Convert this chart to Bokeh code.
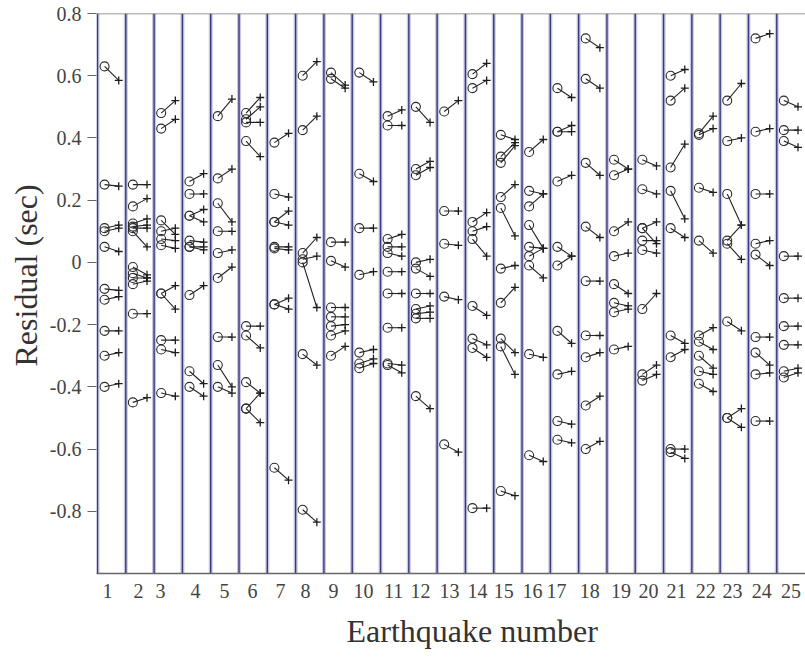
from bokeh.plotting import figure
from bokeh.models import FixedTicker, Span, Title
from bokeh.embed import file_html
from bokeh.resources import INLINE

# ---------------- data ----------------
eq_id = (
    [1] * 10 + [2] * 12 + [3] * 11 + [4] * 10 + [5] * 9 + [6] * 9 + [7] * 9 + [8] * 7 +
    [9] * 9 + [10] * 7 + [11] * 10 + [12] * 10 + [13] * 5 + [14] * 9 + [15] * 10 +
    [16] * 9 + [17] * 10 + [18] * 9 + [19] * 8 + [20] * 9 + [21] * 9 + [22] * 9 +
    [23] * 8 + [24] * 9 + [25] * 9
)
circle_res = [
    # 1
    0.63, 0.25, 0.11, 0.10, 0.05, -0.085, -0.12, -0.22, -0.30, -0.40,
    # 2
    0.25, 0.18, 0.125, 0.115, 0.11, 0.10, -0.015, -0.035, -0.05, -0.07, -0.165, -0.45,
    # 3
    0.48, 0.43, 0.135, 0.10, 0.075, 0.055, -0.10, -0.10, -0.25, -0.28, -0.42,
    # 4
    0.26, 0.22, 0.15, 0.15, 0.07, 0.05, 0.05, -0.105, -0.35, -0.40,
    # 5
    0.47, 0.27, 0.19, 0.10, 0.03, -0.05, -0.24, -0.33, -0.40,
    # 6
    0.48, 0.46, 0.45, 0.39, -0.205, -0.235, -0.385, -0.47, -0.47,
    # 7
    0.385, 0.22, 0.13, 0.13, 0.05, 0.045, -0.135, -0.135, -0.66,
    # 8
    0.60, 0.425, 0.03, 0.01, 0.0, -0.295, -0.795,
    # 9
    0.61, 0.59, 0.065, 0.005, -0.145, -0.175, -0.205, -0.235, -0.30,
    # 10
    0.61, 0.285, 0.11, -0.04, -0.29, -0.325, -0.34,
    # 11
    0.47, 0.44, 0.075, 0.05, 0.03, -0.03, -0.10, -0.21, -0.325, -0.33,
    # 12
    0.50, 0.30, 0.28, 0.0, -0.02, -0.10, -0.15, -0.165, -0.18, -0.43,
    # 13
    0.485, 0.165, 0.06, -0.11, -0.585,
    # 14
    0.605, 0.56, 0.13, 0.10, 0.075, -0.14, -0.245, -0.275, -0.79,
    # 15
    0.41, 0.34, 0.32, 0.21, 0.175, -0.02, -0.13, -0.245, -0.27, -0.735,
    # 16
    0.355, 0.23, 0.18, 0.12, 0.05, 0.02, -0.01, -0.295, -0.62,
    # 17
    0.56, 0.42, 0.42, 0.26, 0.05, -0.01, -0.22, -0.36, -0.51, -0.57,
    # 18
    0.72, 0.59, 0.32, 0.115, -0.06, -0.235, -0.305, -0.46, -0.60,
    # 19
    0.33, 0.28, 0.10, 0.02, -0.07, -0.13, -0.16, -0.28,
    # 20
    0.33, 0.235, 0.11, 0.11, 0.07, 0.04, -0.15, -0.36, -0.38,
    # 21
    0.60, 0.52, 0.305, 0.23, 0.11, -0.235, -0.305, -0.60, -0.61,
    # 22
    0.415, 0.41, 0.24, 0.07, -0.235, -0.255, -0.30, -0.35, -0.39,
    # 23
    0.52, 0.39, 0.22, 0.07, 0.06, -0.19, -0.50, -0.50,
    # 24
    0.72, 0.42, 0.22, 0.06, 0.025, -0.24, -0.29, -0.36, -0.51,
    # 25
    0.52, 0.425, 0.39, 0.02, -0.115, -0.205, -0.265, -0.35, -0.37,
]
plus_res = [
    # 1
    0.585, 0.245, 0.12, 0.11, 0.035, -0.09, -0.11, -0.22, -0.29, -0.39,
    # 2
    0.25, 0.205, 0.14, 0.12, 0.11, 0.05, -0.04, -0.05, -0.05, -0.06, -0.165, -0.435,
    # 3
    0.52, 0.46, 0.09, 0.11, 0.07, 0.045, -0.075, -0.15, -0.25, -0.29, -0.43,
    # 4
    0.285, 0.22, 0.17, 0.13, 0.065, 0.05, 0.04, -0.075, -0.39, -0.43,
    # 5
    0.525, 0.30, 0.13, 0.10, 0.04, -0.015, -0.24, -0.40, -0.42,
    # 6
    0.53, 0.50, 0.45, 0.34, -0.205, -0.275, -0.42, -0.42, -0.515,
    # 7
    0.415, 0.21, 0.165, 0.12, 0.05, 0.04, -0.115, -0.15, -0.70,
    # 8
    0.645, 0.47, 0.08, 0.02, -0.145, -0.33, -0.835,
    # 9
    0.57, 0.56, 0.065, -0.015, -0.145, -0.175, -0.20, -0.22, -0.27,
    # 10
    0.58, 0.26, 0.11, -0.03, -0.28, -0.31, -0.325,
    # 11
    0.49, 0.44, 0.09, 0.05, 0.02, -0.03, -0.10, -0.21, -0.33, -0.355,
    # 12
    0.45, 0.325, 0.305, 0.01, -0.045, -0.10, -0.14, -0.16, -0.18, -0.47,
    # 13
    0.52, 0.165, 0.055, -0.12, -0.61,
    # 14
    0.64, 0.585, 0.16, 0.115, 0.02, -0.17, -0.265, -0.305, -0.79,
    # 15
    0.395, 0.385, 0.375, 0.25, 0.085, -0.01, -0.08, -0.29, -0.36, -0.75,
    # 16
    0.395, 0.22, 0.22, 0.045, 0.045, 0.045, -0.05, -0.305, -0.64,
    # 17
    0.53, 0.44, 0.42, 0.28, 0.02, 0.02, -0.26, -0.35, -0.52, -0.58,
    # 18
    0.69, 0.56, 0.28, 0.08, -0.06, -0.235, -0.29, -0.43, -0.575,
    # 19
    0.30, 0.30, 0.13, 0.03, -0.10, -0.14, -0.15, -0.27,
    # 20
    0.31, 0.22, 0.13, 0.06, 0.07, 0.03, -0.10, -0.33, -0.36,
    # 21
    0.62, 0.56, 0.38, 0.14, 0.08, -0.26, -0.28, -0.60, -0.63,
    # 22
    0.47, 0.43, 0.225, 0.03, -0.21, -0.28, -0.34, -0.36, -0.415,
    # 23
    0.575, 0.40, 0.12, 0.12, 0.01, -0.22, -0.47, -0.53,
    # 24
    0.735, 0.43, 0.22, 0.07, -0.01, -0.24, -0.33, -0.355, -0.51,
    # 25
    0.50, 0.425, 0.37, 0.02, -0.115, -0.205, -0.265, -0.34, -0.355,
]

n_quakes = 25
x_tick_pos = [0.85, 1.95, 2.73, 3.96, 4.99, 5.98, 6.97, 7.85, 8.84, 9.90,
              10.96, 11.91, 12.94, 13.93, 14.85, 15.87, 16.72, 17.89, 19.0, 19.97,
              20.96, 21.99, 22.94, 23.97, 25.0]
x_tick_labels = [str(i) for i in range(1, 26)]
y_ticks = [0.8, 0.6, 0.4, 0.2, 0.0, -0.2, -0.4, -0.6, -0.8]
y_tick_labels = ["0.8", "0.6", "0.4", "0.2", "0", "-0.2", "-0.4", "-0.6", "-0.8"]

# ---------------- figure ----------------
SERIF = "Liberation Serif"
p = figure(width=805, height=662, output_backend="svg", toolbar_location=None,
           x_range=(0.465, 25.515), y_range=(-1.0, 0.8),
           min_border_left=96, min_border_right=0, min_border_top=13, min_border_bottom=89)
p.xgrid.visible = False
p.ygrid.visible = False
p.outline_line_color = None
p.background_fill_color = "white"
p.border_fill_color = "white"

# column separators
bounds = [k + 0.5 for k in range(n_quakes)]
p.segment(x0=bounds, y0=[-1.0] * len(bounds), x1=bounds, y1=[0.8] * len(bounds),
          line_color="#b3b3dd", line_width=4, line_alpha=0.75)
p.segment(x0=bounds, y0=[-1.0] * len(bounds), x1=bounds, y1=[0.8] * len(bounds),
          line_color="#3a3a78", line_width=1.4)

top_line = Span(location=0.8, dimension="width", line_color="#777777", line_width=1.5)
p.add_layout(top_line)

# residual pairs: circle (left) -> plus (right)
cx = [e - 0.25 for e in eq_id]
px = [e + 0.25 for e in eq_id]
p.segment(x0=cx, y0=circle_res, x1=px, y1=plus_res, line_color="#222222", line_width=1.1)
p.scatter(cx, circle_res, marker="circle", size=9, fill_color=None,
          line_color="#2b2b2b", line_width=1.1)
p.scatter(px, plus_res, marker="cross", size=8, line_color="#1e1e1e", line_width=1.3)

# axes
p.xaxis.ticker = FixedTicker(ticks=x_tick_pos)
p.xaxis.major_label_overrides = {t: s for t, s in zip(x_tick_pos, x_tick_labels)}
p.xaxis.major_tick_out = 0
p.xaxis.major_tick_in = 0
p.xaxis.minor_tick_out = 0
p.xaxis.minor_tick_in = 0
p.xaxis.axis_line_color = "#666666"
p.xaxis.axis_line_width = 1.5
p.xaxis.major_label_standoff = 10
p.xaxis.major_label_text_font = SERIF
p.xaxis.major_label_text_font_size = "20px"
p.xaxis.major_label_text_color = "#444444"

p.yaxis.ticker = FixedTicker(ticks=y_ticks)
p.yaxis.major_label_overrides = {t: s for t, s in zip(y_ticks, y_tick_labels)}
p.yaxis.major_tick_out = 9
p.yaxis.major_tick_in = 0
p.yaxis.minor_tick_out = 0
p.yaxis.minor_tick_in = 0
p.yaxis.major_tick_line_color = "#666666"
p.yaxis.major_tick_line_width = 1.2
p.yaxis.axis_line_color = None
p.yaxis.major_label_standoff = 6
p.yaxis.major_label_text_font = SERIF
p.yaxis.major_label_text_font_size = "20px"
p.yaxis.major_label_text_color = "#444444"

# axis titles placed as side titles so they can be offset like the reference
xtitle = Title(text="Earthquake number", align="left", offset=250, standoff=20,
               text_font=SERIF, text_font_size="32px", text_font_style="normal",
               text_color="#333333")
ytitle = Title(text="Residual (sec)", align="left", offset=207, standoff=6,
               text_font=SERIF, text_font_size="32px", text_font_style="normal",
               text_color="#333333")
p.add_layout(xtitle, "below")
p.add_layout(ytitle, "left")

open("out.html", "w").write(file_html(p, INLINE))
